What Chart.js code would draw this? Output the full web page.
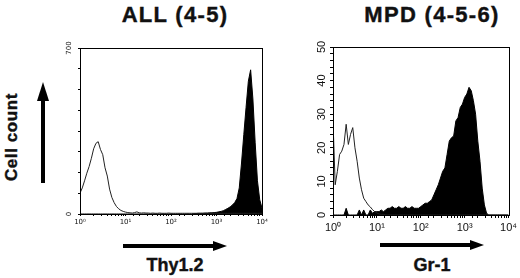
<!DOCTYPE html>
<html>
<head>
<meta charset="utf-8">
<script src="https://cdn.jsdelivr.net/npm/chart.js@4.4.1/dist/chart.umd.min.js"></script>
<style>
  body { margin: 0; background: #fff; width: 520px; height: 278px; overflow: hidden; position: relative; font-family: "Liberation Sans", Arial, sans-serif; }
  canvas { position: absolute; left: 0; top: 0; }
  .txt { position: absolute; font-weight: bold; color: #111; white-space: nowrap; -webkit-text-stroke: 0.4px #111; }
  svg { position: absolute; left: 0; top: 0; }
</style>
</head>
<body>
<div class="txt" style="left:175px;top:4px;font-size:22px;line-height:22px;letter-spacing:1.3px;transform:translateX(-50%)">ALL (4-5)</div>
<div class="txt" style="left:432px;top:4px;font-size:22px;line-height:22px;letter-spacing:1.3px;transform:translateX(-50%)">MPD (4-5-6)</div>
<div class="txt" style="left:11px;top:137px;font-size:17px;line-height:17px;letter-spacing:0.6px;transform:translate(-50%,-50%) rotate(-90deg)">Cell count</div>
<div class="txt" style="left:175px;top:256px;font-size:18px;line-height:18px;transform:translateX(-50%)">Thy1.2</div>
<div class="txt" style="left:432px;top:256px;font-size:18px;line-height:18px;transform:translateX(-50%)">Gr-1</div>

<svg width="520" height="278">
  <rect x="41" y="100" width="4" height="83" fill="#000"/>
  <polygon points="37,101 49,101 43,82" fill="#000"/>
  <rect x="123" y="244" width="91" height="4" fill="#000"/>
  <polygon points="213,241 213,251 227,246" fill="#000"/>
  <rect x="380" y="243" width="91" height="4" fill="#000"/>
  <polygon points="470,240 470,250 484,245" fill="#000"/>
</svg>

<canvas id="graficoALL" width="520" height="278"></canvas>
<canvas id="graficoMPD" width="520" height="278"></canvas>

<script>
// canais em décadas (10^0 ... 10^4), passo de 0.05
const decadas = [
  0.00, 0.05, 0.10, 0.15, 0.20, 0.25, 0.30, 0.35, 0.40, 0.45,
  0.50, 0.55, 0.60, 0.65, 0.70, 0.75, 0.80, 0.85, 0.90, 0.95,
  1.00, 1.05, 1.10, 1.15, 1.20, 1.25, 1.30, 1.35, 1.40, 1.45,
  1.50, 1.55, 1.60, 1.65, 1.70, 1.75, 1.80, 1.85, 1.90, 1.95,
  2.00, 2.05, 2.10, 2.15, 2.20, 2.25, 2.30, 2.35, 2.40, 2.45,
  2.50, 2.55, 2.60, 2.65, 2.70, 2.75, 2.80, 2.85, 2.90, 2.95,
  3.00, 3.05, 3.10, 3.15, 3.20, 3.25, 3.30, 3.35, 3.40, 3.45,
  3.50, 3.55, 3.60, 3.65, 3.70, 3.75, 3.80, 3.85, 3.90, 3.95,
  4.00
];

// ALL (4-5): controle (linha) e Thy1.2 (preenchido)
const allControle = [
  88, 110, 140, 172, 200, 235, 275, 298, 305, 272,
  250, 195, 160, 105, 70, 48, 32, 22, 15, 11,
  8, 6, 5, 4, 6, 9, 5, 4, 5, 4,
  4, 3, 4, 3, 3, 4, 3, 3, 3, 4,
  3, 3, 3, 3, 3, 3, 3, 3, 3, 3,
  3, 3, 3, 3, 3, 3, 3, 3, 3, 3,
  3, 3, 3, 3, 3, 3, 3, 3, 3, 3,
  3, 3, 3, 3, 3, 3, 3, 3, 3, 3,
  3
];
const allThy12 = [
  0, 0, 0, 0, 0, 0, 0, 0, 0, 0,
  0, 0, 0, 0, 0, 0, 0, 0, 0, 0,
  0, 0, 0, 0, 0, 0, 0, 0, 0, 0,
  0, 0, 0, 0, 0, 0, 0, 0, 0, 0,
  0, 0, 0, 0, 0, 0, 0, 0, 0, 0,
  2, 2, 3, 3, 3, 4, 4, 5, 5, 6,
  7, 9, 11, 14, 19, 24, 30, 38, 48, 65,
  110, 215, 335, 450, 560, 608, 485, 300, 140, 60,
  25
];

// MPD (4-5-6): controle (linha) e Gr-1 (preenchido)
const mpdControle = [
  28, 9, 13, 18, 19, 21, 27, 21, 24, 26,
  20, 16, 11, 7.5, 5, 4, 3, 2.4, 1.6, 1,
  0.6, 0.3, 0.2, 0.2, 0, 0, 0, 0, 0, 0,
  0, 0, 0, 0, 0, 0, 0, 0, 0, 0,
  0, 0, 0, 0, 0, 0, 0, 0, 0, 0,
  0, 0, 0, 0, 0, 0, 0, 0, 0, 0,
  0, 0, 0, 0, 0, 0, 0, 0, 0, 0,
  0, 0, 0, 0, 0, 0, 0, 0, 0, 0,
  0
];
const mpdGr1 = [
  0, 0, 0, 0, 0, 0, 2, 0, 0, 0,
  0, 0, 1.5, 0, 1.5, 0, 0, 1.5, 0.5, 1,
  1, 1, 1.5, 1, 1.5, 2, 2, 2.5, 2, 2,
  2.5, 2, 2, 2.5, 2, 2, 2.5, 2, 2, 2,
  2.5, 3, 3.5, 3.5, 4, 4.5, 6, 7.5, 9, 11,
  13, 14, 18, 22, 23, 23.5, 28, 29, 32, 33,
  35, 36, 38, 37, 34, 30, 22, 16, 8, 3,
  0.5, 0, 0, 0, 0, 0, 0, 0, 0, 0,
  0
];

const eixoX = [1, 10, 100, 1000, 10000];
const yTicksALL = [0, 700];
const yTicksMPD = [0, 10, 20, 30, 40, 50];

const sobrescrito = ['\u2070', '\u00b9', '\u00b2', '\u00b3', '\u2074'];

// desenha a moldura em volta da área do gráfico
const moldura = {
  id: 'moldura',
  afterDraw(chart) {
    const { ctx, chartArea: a } = chart;
    ctx.save();
    ctx.strokeStyle = '#000';
    ctx.lineWidth = 1;
    ctx.strokeRect(Math.round(a.left) + 0.5, Math.round(a.top) + 0.5, Math.round(a.right - a.left), Math.round(a.bottom - a.top));
    ctx.restore();
  }
};

function pontos(valores) {
  return decadas.map((d, i) => ({ x: Math.pow(10, d), y: valores[i] }));
}

function criarHistograma(id, controle, marcado, cfg) {
  const ctx = document.getElementById(id).getContext('2d');
  return new Chart(ctx, {
    type: 'line',
    data: {
      datasets: [{
        label: 'controle',
        data: pontos(controle),
        borderColor: '#222',
        borderWidth: 1,
        pointRadius: 0,
        fill: false,
        tension: 0
      }, {
        label: 'marcado',
        data: pontos(marcado),
        borderColor: '#000',
        backgroundColor: '#000',
        borderWidth: 1,
        pointRadius: 0,
        fill: 'origin',
        tension: 0
      }]
    },
    options: {
      responsive: false,
      animation: false,
      layout: { padding: cfg.padding },
      plugins: {
        legend: { display: false },
        tooltip: { enabled: false }
      },
      scales: {
        x: {
          type: 'logarithmic',
          min: 1,
          max: 10000,
          afterFit: s => { s.height = cfg.alturaX; },
          grid: { drawOnChartArea: false, drawTicks: true, tickLength: cfg.tick, color: '#000' },
          border: { display: true, color: '#000', width: 1 },
          ticks: {
            autoSkip: false,
            maxRotation: 0,
            minRotation: 0,
            padding: cfg.padX,
            color: '#111',
            font: { family: cfg.fonte, size: cfg.tamX },
            callback: v => {
              const e = eixoX.indexOf(v);
              return e >= 0 ? '10' + sobrescrito[e] : '';
            }
          }
        },
        y: {
          min: 0,
          max: cfg.maxY,
          afterFit: s => { s.width = cfg.larguraY; },
          grid: { drawOnChartArea: false, drawTicks: true, tickLength: cfg.tick, color: '#000' },
          border: { display: true, color: '#000', width: 1 },
          ticks: {
            stepSize: cfg.passoY,
            autoSkip: false,
            minRotation: 90,
            maxRotation: 90,
            crossAlign: 'center',
            padding: 2,
            color: '#111',
            font: { family: cfg.fonte, size: cfg.tamY },
            callback: v => cfg.rotulosY.includes(v) ? String(v) : ''
          }
        }
      }
    },
    plugins: [moldura]
  });
}

document.addEventListener('DOMContentLoaded', () => {
  criarHistograma('graficoALL', allControle, allThy12, {
    padding: { left: 62, right: 258, top: 48, bottom: 50 },
    alturaX: 14, larguraY: 18, tick: 2, padX: 2,
    maxY: 700, passoY: 87.5, rotulosY: yTicksALL,
    fonte: '"DejaVu Sans", sans-serif', tamX: 7, tamY: 7
  });
  criarHistograma('graficoMPD', mpdControle, mpdGr1, {
    padding: { left: 313, right: 9, top: 47, bottom: 45 },
    alturaX: 18, larguraY: 20, tick: 3, padX: 3,
    maxY: 50, passoY: 2, rotulosY: yTicksMPD,
    fonte: '"Liberation Sans", Arial, sans-serif', tamX: 11, tamY: 11
  });
});
</script>
</body>
</html>
